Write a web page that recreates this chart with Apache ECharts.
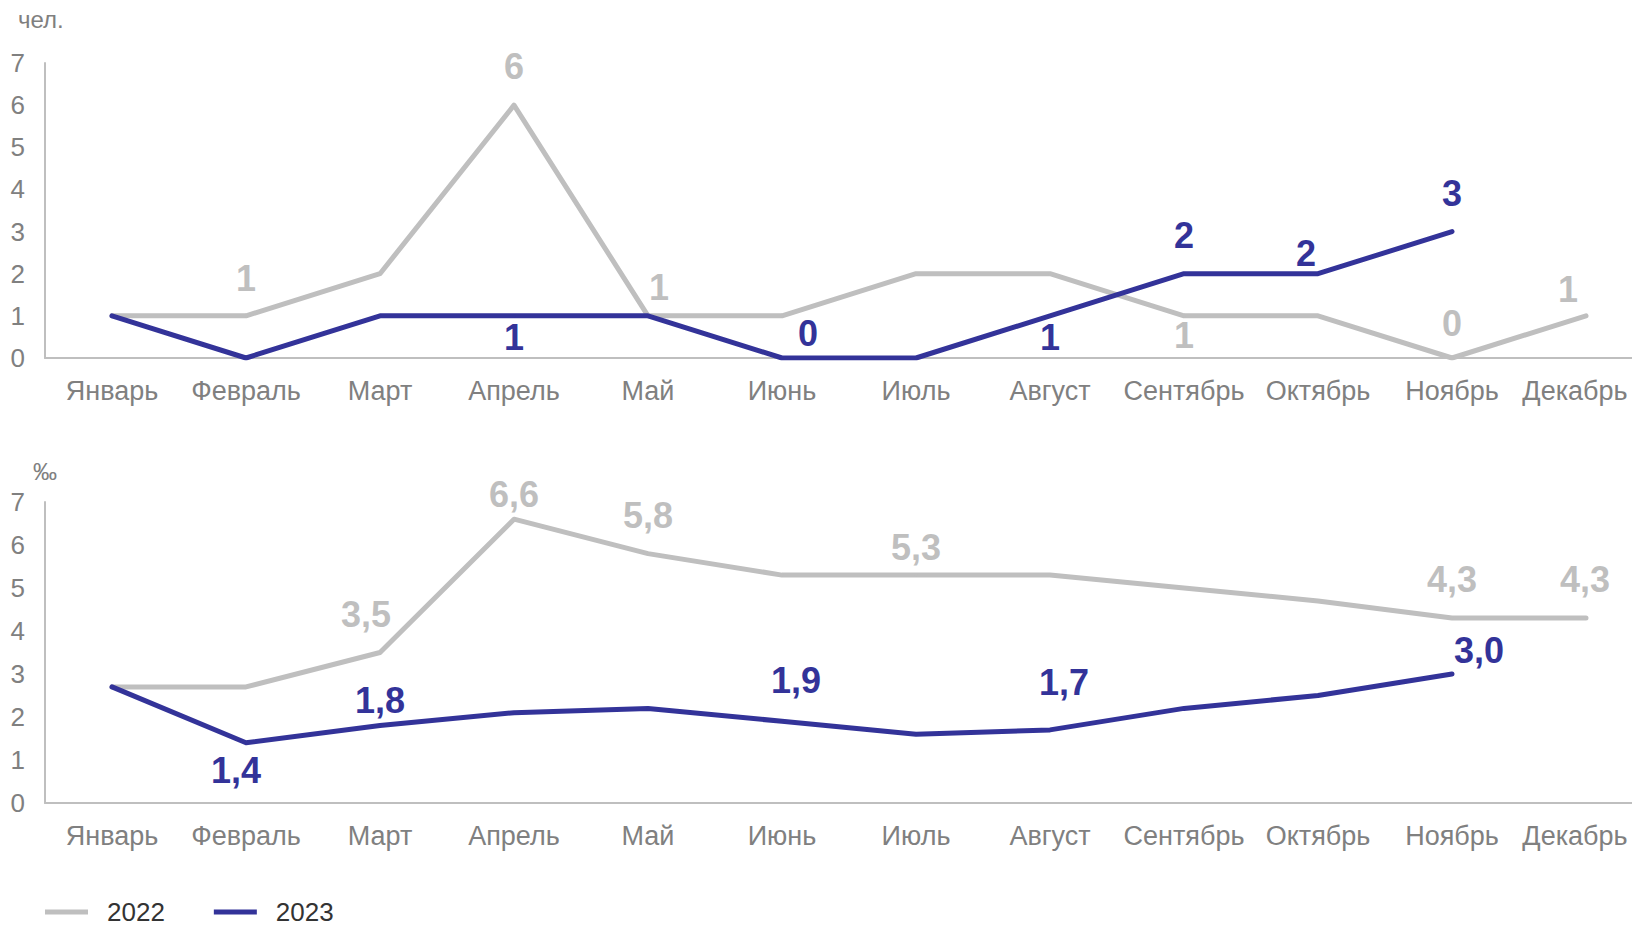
<!DOCTYPE html>
<html>
<head>
<meta charset="utf-8">
<script src="https://cdn.jsdelivr.net/npm/echarts@6/dist/echarts.min.js"></script>
<style>
  html, body { margin: 0; padding: 0; background: #fff; }
  #chart { width: 1632px; height: 926px; }
</style>
</head>
<body>
<div id="chart"></div>
<script>
// months on both x axes
const months = ['Январь', 'Февраль', 'Март', 'Апрель', 'Май', 'Июнь', 'Июль', 'Август', 'Сентябрь', 'Октябрь', 'Ноябрь', 'Декабрь']
const yTicks = [0, 1, 2, 3, 4, 5, 6, 7]
const seriesNames = ['2022', '2023']

// top chart, чел.
const people2022 = [1, 1, 2, 6, 1, 1, 2, 2, 1, 1, 0, 1]
const people2023 = [1, 0, 1, 1, 1, 0, 0, 1, 2, 2, 3]

// bottom chart, ‰
const rate2022 = [2.7, 2.7, 3.5, 6.6, 5.8, 5.3, 5.3, 5.3, 5.0, 4.7, 4.3, 4.3]
const rate2023 = [2.7, 1.4, 1.8, 2.1, 2.2, 1.9, 1.6, 1.7, 2.2, 2.5, 3.0]

// which points carry a value label, and where the label sits relative to the point
const peopleLabels2022 = { 1: [0, -37], 3: [0, -39], 4: [11, -28], 8: [0, 20], 10: [0, -35], 11: [-18, -26] }
const peopleLabels2023 = { 3: [0, 22], 5: [26, -25], 7: [0, 22], 8: [0, -38], 9: [-12, -20], 10: [0, -38] }
const rateLabels2022 = { 2: [-14, -38], 3: [0, -25], 4: [0, -38], 6: [0, -28], 10: [0, -39], 11: [-1, -39] }
const rateLabels2023 = { 1: [-10, 28], 2: [0, -25], 5: [14, -41], 7: [14, -47], 10: [27, -24] }

const GRAY = '#BFBFBF'
const BLUE = '#333399'
const TEXT = '#808080'
const FONT = '"Liberation Sans", Arial, sans-serif'

function withLabels(values, labels, digits) {
  return values.map((v, i) => {
    if (!labels[i]) return v
    return {
      value: v,
      label: {
        show: true,
        position: 'inside',
        offset: labels[i],
        formatter: () => v.toFixed(digits).replace('.', ',')
      }
    }
  })
}

function lineSeries(name, color, values, labels, digits, axisIndex) {
  return {
    name: name,
    type: 'line',
    xAxisIndex: axisIndex,
    yAxisIndex: axisIndex,
    data: withLabels(values, labels, digits),
    symbol: 'circle',
    symbolSize: 3,
    itemStyle: { color: color },
    lineStyle: { color: color, width: 5, cap: 'round', join: 'round' },
    label: {
      show: false,
      color: color,
      fontFamily: FONT,
      fontWeight: 'bold',
      fontSize: 36
    },
    emphasis: { disabled: true },
    z: name === '2023' ? 3 : 2
  }
}

const xAxisBase = {
  type: 'category',
  data: months,
  boundaryGap: true,
  axisLine: { lineStyle: { color: GRAY, width: 2 } },
  axisTick: { show: false },
  axisLabel: {
    color: TEXT,
    fontFamily: FONT,
    fontSize: 27,
    margin: 19,
    interval: 0,
    // the last month sits at the right edge, nudge it in a little
    formatter: (v, i) => (i === months.length - 1 ? '{last|' + v + '}' : v),
    rich: { last: { color: TEXT, fontFamily: FONT, fontSize: 27, padding: [0, 22, 0, 0] } }
  }
}

const yAxisBase = {
  type: 'value',
  min: yTicks[0],
  max: yTicks[yTicks.length - 1],
  interval: 1,
  axisLine: { show: true, lineStyle: { color: GRAY, width: 2 } },
  axisTick: { show: false },
  splitLine: { show: false },
  axisLabel: { color: TEXT, fontFamily: FONT, fontSize: 26, margin: 20 }
}

const chart = echarts.init(document.getElementById('chart'), null, { renderer: 'svg' })

const option = {
  animation: false,
  title: [
    { text: 'чел.', left: 18, top: 7, padding: 0, textStyle: { color: TEXT, fontFamily: FONT, fontSize: 24, fontWeight: 'normal' } },
    { text: '‰', left: 33, top: 459, padding: 0, textStyle: { color: TEXT, fontFamily: FONT, fontSize: 24, fontWeight: 'normal' } }
  ],
  legend: {
    data: seriesNames,
    left: 45,
    top: 899,
    padding: 0,
    icon: 'rect',
    itemWidth: 43,
    itemHeight: 5,
    itemGap: 49,
    textStyle: { color: '#333', fontFamily: FONT, fontSize: 26, padding: [0, 0, 0, 14] }
  },
  grid: [
    { left: 45, width: 1608, top: 63, height: 295, containLabel: false, outerBoundsMode: 'none' },
    { left: 45, width: 1608, top: 502, height: 301, containLabel: false, outerBoundsMode: 'none' }
  ],
  xAxis: [
    Object.assign({ gridIndex: 0 }, xAxisBase),
    Object.assign({ gridIndex: 1 }, xAxisBase)
  ],
  yAxis: [
    Object.assign({ gridIndex: 0 }, yAxisBase),
    Object.assign({ gridIndex: 1 }, yAxisBase)
  ],
  series: [
    lineSeries('2022', GRAY, people2022, peopleLabels2022, 0, 0),
    lineSeries('2023', BLUE, people2023, peopleLabels2023, 0, 0),
    lineSeries('2022', GRAY, rate2022, rateLabels2022, 1, 1),
    lineSeries('2023', BLUE, rate2023, rateLabels2023, 1, 1)
  ]
}

chart.setOption(option)
</script>
</body>
</html>
